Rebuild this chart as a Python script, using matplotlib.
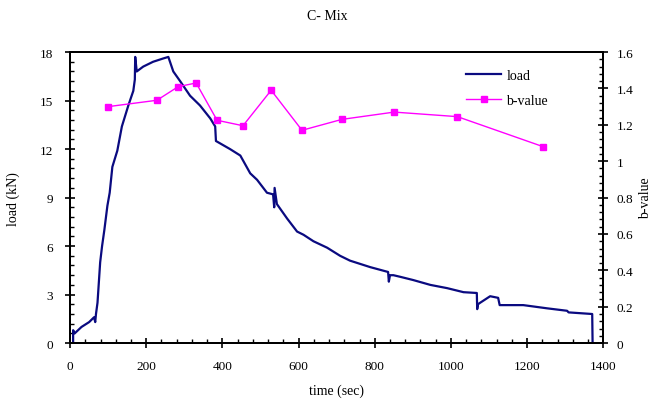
import matplotlib.pyplot as plt
from matplotlib.ticker import MultipleLocator

plt.rcParams['font.family'] = ['Liberation Serif', 'DejaVu Serif']
plt.rcParams['font.size'] = 9.5

# load record (time in sec, load in kN)
time_s = [8, 8, 12, 30, 50, 63, 66, 68, 72, 79, 84, 90, 98, 104, 111, 124,
          136, 153, 166, 170, 171, 175, 192, 218, 244, 258, 271, 289, 315,
          341, 368, 381, 383, 420, 447, 473, 491, 517, 533, 536, 537, 543,
          570, 596, 613, 639, 675, 709, 735, 788, 835, 837, 840, 849, 867,
          901, 946, 990, 1033, 1068, 1069, 1071, 1077, 1103, 1124, 1128,
          1130, 1190, 1253, 1305, 1309, 1371, 1372]
load_kn = [0, 0.8, 0.6, 1.0, 1.3, 1.6, 1.3, 1.8, 2.5, 5.0, 6.0, 7.0, 8.5,
           9.3, 10.9, 11.9, 13.4, 14.7, 15.6, 16.3, 17.7, 16.8, 17.1, 17.4,
           17.6, 17.7, 16.8, 16.2, 15.3, 14.7, 13.9, 13.4, 12.5, 12.0, 11.6,
           10.5, 10.1, 9.3, 9.2, 8.4, 9.6, 8.6, 7.7, 6.9, 6.7, 6.3, 5.9, 5.4,
           5.1, 4.7, 4.4, 3.8, 4.2, 4.2, 4.1, 3.9, 3.6, 3.4, 3.15, 3.1, 2.1,
           2.4, 2.5, 2.9, 2.8, 2.35, 2.35, 2.35, 2.15, 2.0, 1.9, 1.8, 0]

# b-value per window
b_time = [100, 228, 284, 331, 386, 454, 528, 609, 714, 851, 1017, 1242]
b_value = [1.30, 1.335, 1.41, 1.43, 1.225, 1.195, 1.39, 1.17, 1.23, 1.27,
           1.245, 1.08]

fig = plt.figure(figsize=(6.55, 4.02), dpi=100)
ax = fig.add_axes([0.107, 0.144, 0.814, 0.724])
ax2 = ax.twinx()

l1, = ax.plot(time_s, load_kn, color='#0a0a80', lw=1.6, label='load')
l2, = ax2.plot(b_time, b_value, color='#ff00ff', lw=1.0, marker='s',
               markersize=5, label='b-value')

ax.set_xlim(0, 1400)
ax.set_ylim(0, 18)
ax2.set_ylim(0, 1.6)

ax.xaxis.set_major_locator(MultipleLocator(200))
ax.xaxis.set_minor_locator(MultipleLocator(40))
ax.yaxis.set_major_locator(MultipleLocator(3))
ax.yaxis.set_minor_locator(MultipleLocator(0.6))
ax2.yaxis.set_minor_locator(MultipleLocator(0.04))
ax2.set_yticks([0, 0.2, 0.4, 0.6, 0.8, 1, 1.2, 1.4, 1.6])
ax2.set_yticklabels(['0', '0.2', '0.4', '0.6', '0.8', '1', '1.2', '1.4', '1.6'])

for a in (ax, ax2):
    a.tick_params(which='major', direction='inout', length=7, width=1.2)
    a.tick_params(which='minor', direction='in', length=3, width=1.0)
    for s in a.spines.values():
        s.set_linewidth(1.4)
ax.tick_params(axis='x', pad=9)
ax.tick_params(axis='y', pad=9)
ax2.tick_params(axis='y', pad=6)

ax.set_xlabel('time (sec)', fontsize=10, labelpad=8)
ax.set_ylabel('load (kN)', fontsize=10, labelpad=14)
ax2.set_ylabel('b-value', fontsize=10, labelpad=4)
fig.suptitle('C- Mix', y=0.975, fontsize=10)

ax.legend([l1, l2], ['load', 'b-value'], loc='upper right',
          bbox_to_anchor=(0.92, 0.985), frameon=False, handlelength=2.5,
          fontsize=10, labelspacing=0.85, handletextpad=0.4)

fig.savefig('out.png', dpi=100)
